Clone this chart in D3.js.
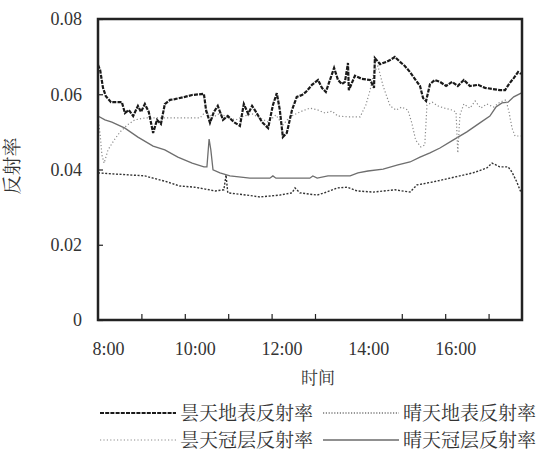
<!DOCTYPE html>
<html lang="zh">
<head>
<meta charset="UTF-8">
<title>反射率日变化</title>
<script src="https://d3js.org/d3.v7.min.js"></script>
<style>
  body { margin: 0; background: #fff; }
  .series { fill: none; }
</style>
</head>
<body>
<svg id="chart" width="540" height="453"></svg>
<script>
// hours of day -> reflectance
const yTicks = [0, 0.02, 0.04, 0.06, 0.08];
const xLabelHours = [8, 10, 12, 14, 16];
const xTickHours = [8.77, 9.77, 10.77, 11.77, 12.77, 14.77, 15.77, 16.77];

const overcastGround = [
  [7.77, 0.0678], [7.82, 0.0664], [7.885, 0.0617], [7.95, 0.0595], [8.07, 0.0579], [8.32, 0.0579],
  [8.39, 0.055], [8.48, 0.0558], [8.58, 0.0542], [8.69, 0.0569], [8.76, 0.0553], [8.85, 0.0574],
  [8.94, 0.0553], [9.04, 0.0497], [9.13, 0.0532], [9.22, 0.0521], [9.31, 0.0574], [9.43, 0.0585],
  [9.54, 0.0587], [9.77, 0.0593], [9.94, 0.0598], [10.21, 0.0601], [10.26, 0.0558], [10.35, 0.0524],
  [10.44, 0.0553], [10.53, 0.0569], [10.65, 0.0532], [10.76, 0.0542], [10.9, 0.0526], [11.04, 0.0516],
  [11.13, 0.0574], [11.23, 0.0548], [11.32, 0.0569], [11.41, 0.0553], [11.55, 0.0526], [11.69, 0.051],
  [11.8, 0.0571], [11.89, 0.0603], [11.96, 0.0558], [12.03, 0.0486], [12.12, 0.0497], [12.24, 0.0558],
  [12.35, 0.0593], [12.47, 0.0598], [12.56, 0.0606], [12.7, 0.0625], [12.84, 0.0638], [12.93, 0.0617],
  [13.02, 0.0606], [13.21, 0.067], [13.3, 0.0638], [13.39, 0.0627], [13.46, 0.0633], [13.53, 0.0683],
  [13.55, 0.0611], [13.69, 0.0649], [13.85, 0.0641], [14.04, 0.0638], [14.13, 0.0617], [14.15, 0.0696],
  [14.27, 0.068], [14.41, 0.0686], [14.5, 0.0691], [14.61, 0.0699], [14.73, 0.0686], [14.84, 0.0675],
  [14.96, 0.0659], [15.07, 0.0641], [15.19, 0.0622], [15.26, 0.059], [15.33, 0.0582], [15.42, 0.0627],
  [15.53, 0.0638], [15.65, 0.0633], [15.79, 0.0622], [15.93, 0.0633], [16.06, 0.0622], [16.2, 0.0638],
  [16.34, 0.0622], [16.53, 0.0625], [16.69, 0.0617], [17.03, 0.0611], [17.15, 0.0611], [17.24, 0.0627],
  [17.35, 0.0643], [17.45, 0.0659], [17.52, 0.0654]
];

const overcastCanopy = [
  [7.77, 0.0537], [7.82, 0.0492], [7.86, 0.0439], [7.91, 0.0417], [8.0, 0.0452], [8.14, 0.0478],
  [8.28, 0.05], [8.44, 0.0518], [8.62, 0.0532], [8.85, 0.0537], [9.2, 0.0537], [9.66, 0.0537],
  [10.12, 0.0537], [10.26, 0.0555], [10.4, 0.0537], [10.58, 0.055], [10.76, 0.0537], [10.95, 0.0532],
  [11.13, 0.0542], [11.32, 0.0548], [11.5, 0.0537], [11.69, 0.0526], [11.87, 0.0545], [12.03, 0.0518],
  [12.19, 0.054], [12.42, 0.0553], [12.65, 0.0563], [12.84, 0.0558], [13.0, 0.055], [13.16, 0.0555],
  [13.3, 0.0542], [13.53, 0.054], [13.81, 0.054], [13.94, 0.0571], [14.04, 0.0611], [14.13, 0.0659],
  [14.22, 0.0675], [14.34, 0.0622], [14.5, 0.0569], [14.64, 0.0558], [14.77, 0.0566], [14.91, 0.0558],
  [15.0, 0.0524], [15.09, 0.0478], [15.21, 0.046], [15.3, 0.0465], [15.35, 0.0571], [15.47, 0.0579],
  [15.6, 0.0569], [15.76, 0.0563], [15.93, 0.0558], [16.02, 0.0553], [16.06, 0.0444], [16.11, 0.0545],
  [16.2, 0.0574], [16.34, 0.0563], [16.46, 0.0582], [16.59, 0.0563], [16.73, 0.0574], [16.89, 0.0566],
  [17.03, 0.0579], [17.17, 0.0585], [17.24, 0.0553], [17.31, 0.051], [17.38, 0.0489], [17.54, 0.0489]
];

const clearCanopy = [
  [7.77, 0.0542], [7.93, 0.0532], [8.09, 0.0526], [8.39, 0.051], [8.69, 0.0486], [9.04, 0.0462],
  [9.31, 0.0452], [9.61, 0.0433], [9.94, 0.0417], [10.21, 0.0407], [10.28, 0.0407], [10.33, 0.0481],
  [10.37, 0.0452], [10.42, 0.0399], [10.58, 0.0391], [10.81, 0.0383], [11.27, 0.0377], [11.73, 0.0377],
  [11.8, 0.0383], [11.87, 0.0377], [12.65, 0.0377], [12.72, 0.0383], [12.82, 0.0377], [13.07, 0.0383],
  [13.58, 0.0383], [13.76, 0.0391], [13.99, 0.0396], [14.34, 0.0401], [14.68, 0.0412], [14.96, 0.042],
  [15.19, 0.0433], [15.42, 0.0444], [15.65, 0.0457], [15.95, 0.0478], [16.27, 0.05], [16.57, 0.0524],
  [16.8, 0.0542], [16.94, 0.0566], [17.08, 0.0577], [17.22, 0.0579], [17.35, 0.0593], [17.52, 0.0603]
];

const clearGround = [
  [7.77, 0.0391], [8.16, 0.0388], [8.58, 0.0385], [8.85, 0.0383], [9.04, 0.0377], [9.31, 0.0369],
  [9.66, 0.0356], [10.0, 0.0353], [10.24, 0.0348], [10.47, 0.0343], [10.67, 0.0346], [10.72, 0.0385],
  [10.76, 0.0338], [11.2, 0.0332], [11.5, 0.0327], [11.96, 0.0332], [12.24, 0.0338], [12.31, 0.0351],
  [12.42, 0.0338], [12.82, 0.0332], [13.04, 0.034], [13.28, 0.0351], [13.51, 0.0353], [13.74, 0.0343],
  [14.11, 0.034], [14.61, 0.0346], [14.96, 0.034], [15.12, 0.0359], [15.49, 0.0367], [15.88, 0.0377],
  [16.41, 0.0391], [16.73, 0.0404], [16.85, 0.0417], [17.03, 0.0407], [17.22, 0.0407], [17.31, 0.0393],
  [17.42, 0.0367], [17.52, 0.0338]
];

const seriesNames = ["昙天地表反射率", "晴天地表反射率", "昙天冠层反射率", "晴天冠层反射率"];

const svg = d3.select("#chart"),
      width = +svg.attr("width"),
      height = +svg.attr("height");

const margin = {top: 19, right: 18, bottom: 133, left: 98};
const innerWidth = width - margin.left - margin.right;
const innerHeight = height - margin.top - margin.bottom;
const numFont = "Liberation Serif";
const cjkFont = "Noto Serif CJK SC";

const x = d3.scaleLinear().domain([7.77, 17.54]).range([0, innerWidth]);
const y = d3.scaleLinear().domain([0, 0.08]).range([innerHeight, 0]);

const g = svg.append("g")
    .attr("transform", `translate(${margin.left},${margin.top})`);

g.append("clipPath").attr("id", "clip")
  .append("rect").attr("width", innerWidth).attr("height", innerHeight);

// styles for each series, in legend order
const styles = [
  {data: overcastGround, stroke: "#1a1a1a", width: 2.2, dash: "4,1.2"},
  {data: clearGround, stroke: "#333", width: 1.4, dash: "2,1.6"},
  {data: overcastCanopy, stroke: "#8a8a8a", width: 1.2, dash: "1.2,2.2"},
  {data: clearCanopy, stroke: "#6e6e6e", width: 1.3, dash: null}
];

const line = d3.line()
    .x(d => x(d[0]))
    .y(d => y(d[1]));

const plot = g.append("g").attr("clip-path", "url(#clip)");
[3, 2, 1, 0].forEach(i => {
  const s = styles[i];
  plot.append("path")
      .datum(s.data)
      .attr("class", "series")
      .attr("d", line)
      .attr("stroke", s.stroke)
      .attr("stroke-width", s.width)
      .attr("stroke-dasharray", s.dash);
});

// y axis (inside ticks)
const yAxis = g.append("g")
    .call(d3.axisLeft(y).tickValues(yTicks).tickSize(-5).tickPadding(16)
      .tickFormat(d => d === 0 ? "0" : d3.format(".2f")(d)));
yAxis.select(".domain").remove();
yAxis.attr("font-family", numFont).attr("font-size", 18);
yAxis.selectAll("text").attr("fill", "#333");
yAxis.selectAll("line").attr("stroke", "#222").attr("stroke-width", 1.2);

// x axis tick marks
const xTicks = g.append("g")
    .attr("transform", `translate(0,${innerHeight})`)
    .call(d3.axisBottom(x).tickValues(xTickHours).tickSize(-6).tickFormat(""));
xTicks.select(".domain").remove();
xTicks.selectAll("line").attr("stroke", "#222").attr("stroke-width", 1.2);

// x axis labels
const xLabels = g.append("g")
    .attr("transform", `translate(0,${innerHeight})`)
    .call(d3.axisBottom(x).tickValues(xLabelHours).tickSize(0).tickPadding(22)
      .tickFormat(h => `${h}:00`));
xLabels.select(".domain").remove();
xLabels.attr("font-family", numFont).attr("font-size", 18);
xLabels.selectAll("text").attr("fill", "#333");

// frame
g.append("rect")
    .attr("width", innerWidth)
    .attr("height", innerHeight)
    .attr("fill", "none")
    .attr("stroke", "#222")
    .attr("stroke-width", 2.5);

// axis titles
g.append("text")
    .attr("font-family", cjkFont)
    .attr("x", innerWidth / 2 + 8)
    .attr("y", innerHeight + 64)
    .attr("text-anchor", "middle")
    .attr("font-size", 17)
    .attr("fill", "#333")
    .text("时间");

svg.append("text")
    .attr("font-family", cjkFont)
    .attr("transform", `translate(19,166) rotate(-90)`)
    .attr("text-anchor", "middle")
    .attr("font-size", 19)
    .attr("fill", "#333")
    .text("反射率");

// legend
const legend = svg.append("g").attr("transform", "translate(100,413)");
styles.forEach((s, i) => {
  const col = i % 2, row = Math.floor(i / 2);
  const item = legend.append("g")
      .attr("transform", `translate(${col * 223},${row * 27})`);
  item.append("line")
      .attr("x1", 0).attr("x2", 76)
      .attr("stroke", i === 3 ? "#222" : s.stroke)
      .attr("stroke-width", i === 0 ? 2 : 1.2)
      .attr("stroke-dasharray", i === 1 ? "1.2,1.6" : s.dash);
  item.append("text")
      .attr("font-family", cjkFont)
      .attr("x", 80)
      .attr("dy", "0.35em")
      .attr("font-size", 19)
      .attr("fill", "#333")
      .text(seriesNames[i]);
});
</script>
</body>
</html>
